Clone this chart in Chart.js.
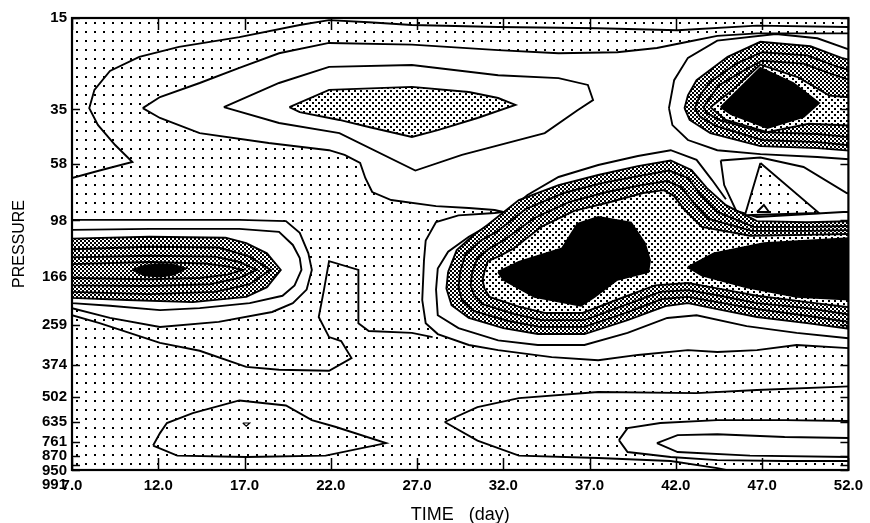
<!DOCTYPE html>
<html>
<head>
<meta charset="utf-8">
<script src="https://cdn.jsdelivr.net/npm/chart.js@4.4.0/dist/chart.umd.min.js"></script>
<style>html,body{margin:0;padding:0;background:#fff}</style>
</head>
<body>
<canvas id="c" width="870" height="523"></canvas>
<script>
// axes
var dayTicks = [7, 12, 17, 22, 27, 32, 37, 42, 47, 52];
var pressureTicks = [15, 35, 58, 98, 166, 259, 374, 502, 635, 761, 870, 950, 991];
var dayRange = [7, 52];
var pressureRange = [15, 991];

// contours, every point is [day, pressure]
var topOuter = [[7.0,66.1],[8.6,61.7],[10.5,57.0],[9.5,48.7],[8.5,40.4],[8.0,34.6],[8.3,29.2],[9.2,24.5],[10.9,21.5],[13.2,19.6],[16.7,17.9],[20.2,16.0],[21.9,15.3],[24.2,15.6],[26.7,16.0],[31.7,16.3],[37.5,16.5],[42.1,16.8],[46.7,16.1],[52.0,16.3]];
var whiteBand = [[11.1,34.6],[12.1,31.2],[14.4,27.4],[16.7,23.8],[19.0,20.8],[21.9,18.9],[26.7,19.2],[31.7,20.2],[35.2,20.8],[38.6,20.6],[40.9,19.8],[42.7,18.7],[44.4,17.7],[46.7,17.3],[49.0,17.3],[52.5,17.3],[52.5,326],[52.0,320],[49.0,311],[46.7,326],[44.4,332],[42.7,326],[39.8,341],[37.5,358],[34.8,348],[31.7,326],[30.0,311],[28.2,281],[27.5,254],[27.3,205],[27.4,142],[27.5,118],[28.1,99.5],[29.4,93.5],[31.5,91.5],[32.0,90.6],[31.5,89],[30.0,87.3],[28.1,85.8],[25.5,81.1],[24.4,75.3],[24.0,66.1],[23.7,57.5],[22.8,53.4],[21.9,51.1],[18.4,47.8],[14.4,43.6],[12.1,37.9]];
var upperInner = [[15.8,34.3],[19.0,27.4],[21.9,23.6],[26.7,23.2],[31.7,25.5],[35.2,26.2],[36.9,27.9],[37.2,32.1],[36.3,35.3],[34.4,43.6],[29.6,53.4],[26.9,61.7],[22.5,43.6],[19.0,39.7]];
var upperCore = [[19.6,34.3],[21.9,29.2],[26.7,28.4],[30.0,29.8],[31.7,31.5],[32.7,33.6],[30.5,37.9],[28.2,42.4],[26.7,45.2],[24.2,41.2],[22.5,38.6],[20.2,35.9]];

var rightTopRing = [[41.6,34.6],[41.9,26.7],[42.7,21.7],[44.4,18.5],[47.8,17.4],[50.2,18.1],[52.5,20.6],[52.5,55.9],[50.2,54.4],[46.9,53.0],[44.4,51.1],[42.7,46.5],[41.8,40.5]];
var rightTop1 = [[42.5,34.6],[42.7,30.7],[43.2,26.7],[45.0,21.5],[46.9,18.7],[49.8,19.5],[51.6,21.7],[52.5,22.5],[52.5,51.6],[50.2,50.1],[46.9,49.2],[44.0,43.6],[42.8,38.6]];
var rightTop2 = [[43.1,34.6],[43.4,30.7],[44.0,27.1],[45.5,22.9],[47.0,20.6],[49.6,21.2],[51.3,23.5],[52.5,24.7],[52.5,49.2],[50.2,47.4],[47.0,46.5],[44.3,40.8],[43.4,37.5]];
var rightTop3 = [[43.6,34.3],[44.0,31.2],[44.5,28.0],[45.9,24.5],[47.0,22.3],[49.4,22.9],[51.0,25.2],[52.5,27.2],[52.5,45.6],[50.2,44.0],[47.0,43.2],[44.5,38.6],[43.8,36.2]];
var rightTop4 = [[44.0,34.3],[45.3,29.2],[46.9,23.1],[49.1,26.0],[50.9,30.8],[52.5,31.5],[52.5,40.8],[49.7,40.0],[47.3,43.2],[44.9,38.6]];
var rightTopCore = [[44.6,34.3],[46.9,23.8],[48.8,27.4],[50.3,33.0],[49.4,37.5],[47.3,41.6],[45.2,36.6]];

var triangleRing = [[44.6,56.2],[46.9,54.7],[49.4,59.7],[51.9,76.0],[52.5,77.4],[52.5,90.6],[51.7,90.6],[46.7,94.9],[45.5,89.7],[44.8,70.6]];
var triangle = [[46.9,57.5],[50.3,91.5],[46.0,93.3]];
var triangleCore = [[46.7,90.6],[47.1,84.9],[47.4,90.6]];

var mainRing = [[52.0,292],[49.0,278],[46.1,261],[43.2,236],[41.5,242],[39.2,278],[36.7,311],[34.0,311],[31.7,298],[29.4,266],[28.2,236],[28.1,186],[28.2,153],[28.8,131],[30.0,114],[31.5,99.5],[33.4,77.4],[35.2,65.5],[37.5,58.6],[39.8,53.9],[41.7,51.1],[43.2,55.9],[44.1,67.4],[44.9,80.5]];
var mainBand1 = [[28.8,158],[29.3,129],[30.3,112],[31.1,102],[32.9,81.1],[35.2,70.6],[37.5,64.3],[39.8,59.2],[41.7,56.2],[42.9,61.4],[43.8,72.6],[44.9,85.0],[46.7,98.6],[49.6,99.6],[52.5,98.6],[52.5,270],[49.6,254],[46.7,240],[44.4,223],[42.7,211],[41.4,217],[39.2,247],[36.7,281],[34.0,281],[32.0,266],[30.0,242],[29.0,215],[28.7,184]];
var mainBand2 = [[29.5,158],[29.8,134],[30.7,118],[31.6,109],[33.3,88.1],[35.5,76.0],[37.7,69.3],[39.9,64.8],[41.6,61.7],[42.7,66.1],[43.4,76.8],[44.4,90.6],[46.5,104],[49.6,104],[52.5,103],[52.5,254],[49.6,237],[46.7,223],[44.4,209],[42.7,199],[41.2,203],[39.1,231],[36.7,263],[34.1,263],[32.3,249],[30.3,227],[29.6,205],[29.4,182]];
var mainBand3 = [[30.2,158],[30.5,139],[31.2,127],[32.0,118],[33.8,95.8],[35.8,82.7],[38.0,75.3],[40.0,70.6],[41.5,68.0],[42.3,71.9],[43.0,82.7],[43.9,96.7],[46.4,108],[49.6,108],[52.5,107],[52.5,237],[49.6,221],[46.7,211],[44.4,196],[42.7,187],[41.1,190],[38.9,217],[36.7,247],[34.2,247],[32.6,233],[30.8,213],[30.3,195],[30.1,179]];
var mainBand4 = [[30.9,158],[31.1,143],[31.8,136],[32.6,127],[34.2,104],[36.1,89.7],[38.2,82.6],[40.1,76.0],[41.3,74.0],[41.9,78.2],[42.5,88.9],[43.5,104],[46.3,113],[49.6,112],[52.5,111],[52.5,221],[49.6,209],[46.7,197],[44.4,184],[42.7,175],[40.8,179],[38.7,203],[36.6,231],[34.4,231],[32.9,218],[31.2,199],[30.9,184],[30.8,170]];
var mainCoreWest = [[31.7,158],[32.9,144],[35.4,127],[36.3,101],[37.5,94.9],[39.4,100],[40.2,121],[40.5,142],[40.4,158],[38.6,170],[37.3,199],[36.5,216],[33.8,199],[32.0,170]];
var mainCoreEast = [[42.7,151],[44.2,133],[47.1,121],[52.5,115],[52.5,205],[49.0,199],[46.1,182],[43.5,163]];

var leftOuter = [[7.0,97.5],[11.5,97.5],[16.7,97.5],[19.4,98.6],[20.2,110],[20.7,133],[20.9,155],[20.6,186],[19.8,211],[18.6,229],[15.5,251],[12.1,263],[9.2,242],[7.0,221]];
var leftInner = [[7.0,107],[11.5,106],[16.7,106],[19.0,109],[19.8,123],[20.2,139],[20.3,155],[19.9,179],[19.2,197],[17.3,211],[14.4,221],[12.1,225],[9.2,216],[7.0,211]];
var left1 = [[7.0,116],[11.5,114],[15.9,115],[17.1,121],[18.3,133],[19.1,155],[18.3,182],[17.1,199],[14.0,209],[10.2,205],[7.0,201]];
var left2 = [[7.0,128],[11.5,125],[15.5,126],[17.3,137],[18.5,155],[17.3,177],[15.3,190],[11.5,194],[7.0,190]];
var left3 = [[7.0,138],[11.5,136],[15.3,137],[16.7,144],[17.7,155],[16.7,167],[15.0,177],[11.5,180],[7.0,179]];
var left4 = [[7.0,147],[11.5,144],[14.7,146],[16.0,150],[16.9,155],[16.0,162],[14.4,167],[11.5,169],[7.0,167]];
var leftCore = [[10.5,155],[11.2,149],[12.1,147],[12.9,148],[13.6,153],[12.9,162],[12.1,165],[11.2,163]];

var middleLine = [[7.0,236],[8.6,254],[12.1,305],[14.4,328],[17.1,381],[19.0,391],[21.9,395],[23.2,351],[22.6,300],[21.9,289],[21.3,240],[21.6,187],[21.9,143],[23.6,155],[23.6,254],[24.2,273],[26.7,278],[27.9,289]];
var lowerRightOuter = [[28.6,635],[30.5,553],[32.9,509],[37.5,481],[43.2,486],[46.7,472],[52.5,455],[52.5,1010],[45.5,1010],[44.4,974],[41.7,912],[37.5,887],[32.9,867],[30.5,755]];
var lowerRightWhite = [[38.7,751],[39.2,672],[41.1,641],[44.4,624],[48.3,624],[52.5,630],[52.5,912],[48.3,912],[44.4,904],[41.7,879],[39.2,839]];
var lowerRightInner = [[40.9,772],[42.1,717],[44.4,711],[48.3,730],[52.5,737],[52.5,879],[46.3,867],[42.1,839]];
var lowerLeft = [[11.7,790],[12.1,704],[12.5,641],[14.0,585],[16.7,520],[19.4,545],[20.9,624],[22.3,665],[25.2,772],[21.7,867],[17.1,879],[13.1,867]];
var lowerLeftDot = [[16.9,641],[17.1,660],[17.3,641]];

function makePattern(kind) {
	var c = document.createElement("canvas");
	var g = c.getContext("2d");
	if (kind === "dots") {
		c.width = 9; c.height = 9;
		g.fillStyle = "#fff"; g.fillRect(0, 0, 9, 9);
		g.fillStyle = "#000"; g.fillRect(4, 4, 2, 2);
	} else if (kind === "light") {
		c.width = 6; c.height = 6;
		g.fillStyle = "#fff"; g.fillRect(0, 0, 6, 6);
		g.fillStyle = "#000"; g.fillRect(0, 0, 2, 2); g.fillRect(3, 3, 2, 2);
	} else {
		c.width = 4; c.height = 4;
		g.fillStyle = "#fff"; g.fillRect(0, 0, 4, 4);
		g.fillStyle = "#000"; g.fillRect(0, 0, 2, 2); g.fillRect(2, 2, 2, 2);
	}
	return document.getElementById("c").getContext("2d").createPattern(c, "repeat");
}

var fills = {
	dots: makePattern("dots"),
	light: makePattern("light"),
	gray: makePattern("gray"),
	white: "#fff",
	black: "#000"
};

var domain = [[dayRange[0], pressureRange[0]], [dayRange[1], pressureRange[0]], [dayRange[1], pressureRange[1]], [dayRange[0], pressureRange[1]]];

// drawing order, bottom first: [contour, fill, closed, line width]
var layers = [
	[domain, "dots", true, 0],
	[topOuter, null, false],
	[whiteBand, "white", true],
	[upperInner, null, true],
	[upperCore, "light", true],
	[rightTopRing, null, true],
	[rightTop1, "gray", true],
	[rightTop2, "gray", true],
	[rightTop3, "gray", true],
	[rightTop4, "light", true],
	[rightTopCore, "black", true],
	[triangleRing, null, true],
	[triangle, "dots", true],
	[triangleCore, "white", true],
	[mainRing, null, false],
	[mainBand1, "gray", true],
	[mainBand2, "gray", true],
	[mainBand3, "gray", true],
	[mainBand4, "light", true],
	[mainCoreWest, "black", true],
	[mainCoreEast, "black", true],
	[leftOuter, "white", true],
	[leftInner, null, true],
	[left1, "gray", true],
	[left2, "gray", true],
	[left3, "gray", true],
	[left4, "gray", true],
	[leftCore, "black", true],
	[middleLine, null, false],
	[lowerRightOuter, null, true],
	[lowerRightWhite, "white", true],
	[lowerRightInner, null, true],
	[lowerLeft, null, true],
	[lowerLeftDot, null, true, 1.2]
];

var datasets = layers.map(function(l, i) {
	var pts = l[0].map(function(p) { return {x: p[0], y: p[1]}; });
	if (l[2]) pts.push(pts[0]);
	return {
		data: pts,
		showLine: true,
		fill: l[1] ? "shape" : false,
		backgroundColor: l[1] ? fills[l[1]] : "rgba(0,0,0,0)",
		borderColor: "#000",
		borderWidth: l[3] === undefined ? 1.9 : l[3],
		pointRadius: 0,
		tension: 0,
		order: layers.length - i
	};
});

var font = "'Liberation Sans', Arial, Helvetica, sans-serif";

var frame = {
	id: "frame",
	afterDatasetsDraw: function(chart) {
		var ctx = chart.ctx, a = chart.chartArea, x = chart.scales.x, y = chart.scales.y;
		ctx.save();
		ctx.strokeStyle = "#000";
		ctx.lineWidth = 1.5;
		dayTicks.forEach(function(d) {
			var px = Math.round(x.getPixelForValue(d)) + 0.5;
			ctx.beginPath();
			ctx.moveTo(px, a.bottom); ctx.lineTo(px, a.bottom - 12);
			ctx.moveTo(px, a.top); ctx.lineTo(px, a.top + 12);
			ctx.stroke();
		});
		pressureTicks.forEach(function(p) {
			var py = Math.round(y.getPixelForValue(p)) + 0.5;
			ctx.beginPath();
			ctx.moveTo(a.left, py); ctx.lineTo(a.left + 8, py);
			ctx.moveTo(a.right, py); ctx.lineTo(a.right - 8, py);
			ctx.stroke();
		});
		ctx.lineWidth = 2.2;
		ctx.strokeRect(a.left, a.top, a.right - a.left, a.bottom - a.top);
		ctx.restore();
	},
	afterDraw: function(chart) {
		var ctx = chart.ctx, a = chart.chartArea, y = chart.scales.y;
		ctx.save();
		ctx.fillStyle = "#000";
		ctx.font = "bold 15px " + font;
		ctx.textAlign = "right";
		ctx.textBaseline = "middle";
		var last = -100;
		pressureTicks.forEach(function(p) {
			var py = Math.max(y.getPixelForValue(p), last + 14.5);
			ctx.fillText(String(p), a.left - 5, py);
			last = py;
		});
		ctx.restore();
	}
};

new Chart(document.getElementById("c"), {
	type: "scatter",
	data: { datasets: datasets },
	options: {
		responsive: false,
		animation: false,
		events: [],
		layout: { padding: { top: 18, right: 18, left: 0, bottom: 0 } },
		plugins: {
			legend: { display: false },
			tooltip: { enabled: false },
			filler: { drawTime: "beforeDatasetDraw" }
		},
		scales: {
			x: {
				type: "linear",
				min: dayRange[0],
				max: dayRange[1],
				grid: { display: false, drawTicks: false },
				border: { display: false },
				afterBuildTicks: function(s) { s.ticks = dayTicks.map(function(v) { return {value: v}; }); },
				afterFit: function(s) { s.height = 53; },
				ticks: {
					autoSkip: false,
					maxRotation: 0,
					padding: 7,
					color: "#000",
					font: { family: font, size: 15, weight: "bold" },
					callback: function(v) { return Number(v).toFixed(1); }
				},
				title: {
					display: true,
					text: "TIME   (day)",
					color: "#000",
					font: { family: font, size: 18 },
					padding: { top: -3, bottom: -3 }
				}
			},
			y: {
				type: "logarithmic",
				reverse: true,
				min: pressureRange[0],
				max: pressureRange[1],
				grid: { display: false, drawTicks: false },
				border: { display: false },
				afterBuildTicks: function(s) { s.ticks = pressureTicks.map(function(v) { return {value: v}; }); },
				afterFit: function(s) { s.width = 72; },
				ticks: { display: false },
				title: {
					display: true,
					text: "PRESSURE",
					color: "#000",
					font: { family: font, size: 16 },
					padding: { top: 10, bottom: 0 }
				}
			}
		}
	},
	plugins: [frame]
});
</script>
</body>
</html>
